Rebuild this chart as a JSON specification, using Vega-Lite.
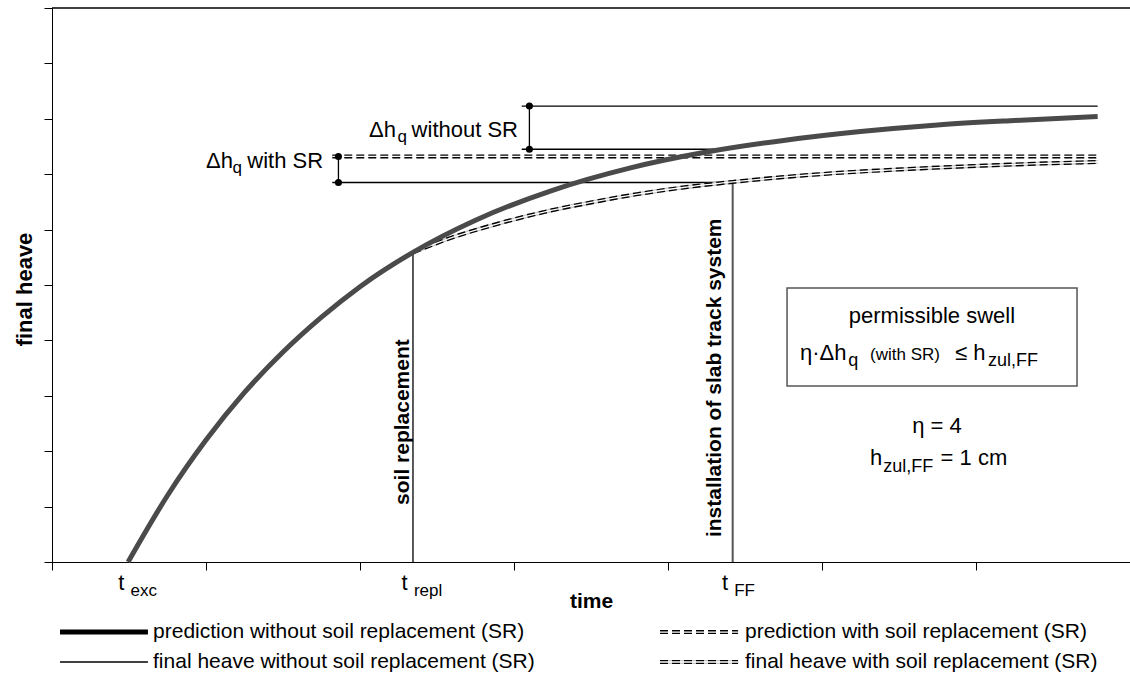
{
  "$schema": "https://vega.github.io/schema/vega-lite/v6.json",
  "width": 1078,
  "height": 554,
  "autosize": "none",
  "padding": {"left": 52, "top": 8, "right": 0, "bottom": 115},
  "config": {"view": {"stroke": null}, "font": "Liberation Sans", "text": {"font": "Liberation Sans"}},
  "datasets": {
    "curve": [{"t":0.494,"h":0},{"t":0.75,"h":1.20},{"t":1.0,"h":2.20},{"t":1.25,"h":3.06},{"t":1.5,"h":3.79},{"t":1.75,"h":4.42},{"t":2.0,"h":4.97},{"t":2.344,"h":5.59},{"t":2.75,"h":6.17},{"t":3.25,"h":6.71},{"t":3.75,"h":7.11},{"t":4.25,"h":7.40},{"t":4.75,"h":7.61},{"t":5.25,"h":7.77},{"t":5.75,"h":7.89},{"t":6.25,"h":7.97},{"t":6.79,"h":8.04}],
    "sr": [{"t":2.344,"h":5.59},{"t":2.6,"h":5.86},{"t":2.9,"h":6.11},{"t":3.2,"h":6.32},{"t":3.5,"h":6.49},{"t":3.8,"h":6.64},{"t":4.1,"h":6.76},{"t":4.42,"h":6.86},{"t":4.8,"h":6.96},{"t":5.2,"h":7.04},{"t":5.6,"h":7.10},{"t":6.0,"h":7.15},{"t":6.4,"h":7.19},{"t":6.79,"h":7.22}],
    "segs": [
      {"g":"thin","x":3.05,"x2":6.79,"y":8.23,"y2":8.23},
      {"g":"thin","x":3.05,"x2":4.37,"y":7.45,"y2":7.45},
      {"g":"thin","x":3.10,"x2":3.10,"y":7.45,"y2":8.23},
      {"g":"thin","x":1.82,"x2":4.42,"y":6.85,"y2":6.85},
      {"g":"thin","x":1.86,"x2":1.86,"y":6.85,"y2":7.32},
      {"g":"thin","x":2.344,"x2":2.344,"y":0,"y2":5.59},
      {"g":"thin","x":0,"x2":7,"y":10,"y2":10},
      {"g":"thin","x":0.052,"x2":0.623,"y":-1.805,"y2":-1.805},
      {"g":"slab","x":4.42,"x2":4.42,"y":0,"y2":6.86},
      {"g":"thick","x":0.052,"x2":0.623,"y":-1.264,"y2":-1.264},
      {"g":"dd","x":1.82,"x2":6.79,"y":7.32,"y2":7.32},
      {"g":"dd","x":3.948,"x2":4.455,"y":-1.264,"y2":-1.264},
      {"g":"gd","x":3.948,"x2":4.455,"y":-1.805,"y2":-1.805}
    ],
    "dots": [{"x":3.10,"y":8.23},{"x":3.10,"y":7.45},{"x":1.86,"y":7.32},{"x":1.86,"y":6.85}],
    "txt": [
      {"r":"annR","x":3.026,"y":7.67,"text":"without SR"},
      {"r":"annR","x":2.234,"y":7.67,"text":"Δh"},
      {"r":"annR","x":1.760,"y":7.11,"text":"with SR"},
      {"r":"annR","x":1.175,"y":7.11,"text":"Δh"},
      {"r":"subR","x":2.305,"y":7.58,"text":"q"},
      {"r":"subR","x":1.234,"y":7.02,"text":"q"},
      {"r":"main","x":0.43,"y":-0.505,"text":"t"},
      {"r":"main","x":2.27,"y":-0.505,"text":"t"},
      {"r":"main","x":4.35,"y":-0.505,"text":"t"},
      {"r":"sub","x":0.51,"y":-0.614,"text":"exc"},
      {"r":"sub","x":2.35,"y":-0.614,"text":"repl"},
      {"r":"sub","x":4.43,"y":-0.614,"text":"FF"},
      {"r":"boxL","x":4.857,"y":3.646,"text":"η·Δh"},
      {"r":"boxS","x":5.17,"y":3.538,"text":"q"},
      {"r":"small","x":5.312,"y":3.646,"text":"(with SR)"},
      {"r":"boxL","x":5.864,"y":3.646,"text":"≤ h"},
      {"r":"boxS","x":6.078,"y":3.538,"text":"zul,FF"},
      {"r":"boxL","x":5.312,"y":1.75,"text":"h"},
      {"r":"boxS","x":5.397,"y":1.625,"text":"zul,FF"},
      {"r":"boxL","x":5.77,"y":1.75,"text":"= 1 cm"},
      {"r":"boxC","x":5.714,"y":4.314,"text":"permissible swell"},
      {"r":"boxC","x":5.747,"y":2.33,"text":"η = 4"},
      {"r":"leg","x":0.656,"y":-1.264,"text":"prediction without soil replacement (SR)"},
      {"r":"leg","x":0.656,"y":-1.805,"text":"final heave without soil replacement (SR)"},
      {"r":"leg","x":4.5,"y":-1.264,"text":"prediction with soil replacement (SR)"},
      {"r":"leg","x":4.5,"y":-1.805,"text":"final heave with soil replacement (SR)"},
      {"r":"rot","x":2.279,"y":1.03,"text":"soil replacement"},
      {"r":"rot","x":4.305,"y":0.45,"text":"installation of slab track system"}
    ],
    "box": [{"x":4.773,"x2":6.656,"y":4.946,"y2":3.177}]
  },
  "encoding": {
    "x": {"field": "x", "type": "quantitative", "scale": {"domain": [0, 7], "nice": false, "zero": false},
      "axis": {"values": [0,1,2,3,4,5,6,7], "labels": false, "tickSize": 8, "grid": false, "domainColor": "#000", "tickColor": "#000", "title": "time", "titleFont": "Liberation Sans", "titleFontSize": 21, "titleFontWeight": "bold", "titleColor": "#000", "titleBaseline": "alphabetic", "titleY": 45}},
    "y": {"field": "y", "type": "quantitative", "scale": {"domain": [0, 10], "nice": false, "zero": false},
      "axis": {"values": [0,1,2,3,4,5,6,7,8,9,10], "labels": false, "tickSize": 8, "grid": false, "domainColor": "#000", "tickColor": "#000", "title": "final heave", "titleFont": "Liberation Sans", "titleFontSize": 22, "titleFontWeight": "bold", "titleColor": "#000", "titleAngle": 270, "titleBaseline": "alphabetic", "titleAlign": "center", "titleX": -21, "titleY": 281}}
  },
  "layer": [
    {"data": {"name": "box"}, "mark": {"type": "rect", "fill": null, "stroke": "#555", "strokeWidth": 1.5},
     "encoding": {"x2": {"field": "x2"}, "y2": {"field": "y2"}}},
    {"data": {"name": "segs"}, "transform": [{"filter": "datum.g == 'thin'"}], "mark": {"type": "rule", "color": "#000", "strokeWidth": 1.3},
     "encoding": {"x2": {"field": "x2"}, "y2": {"field": "y2"}}},
    {"data": {"name": "segs"}, "transform": [{"filter": "datum.g == 'slab'"}], "mark": {"type": "rule", "color": "#555", "strokeWidth": 2},
     "encoding": {"x2": {"field": "x2"}, "y2": {"field": "y2"}}},
    {"data": {"name": "segs"}, "transform": [{"filter": "datum.g == 'thick'"}], "mark": {"type": "rule", "color": "#000", "strokeWidth": 5},
     "encoding": {"x2": {"field": "x2"}, "y2": {"field": "y2"}}},
    {"data": {"name": "segs"}, "transform": [{"filter": "datum.g == 'gd'"}], "mark": {"type": "rule", "color": "#c8c8c8", "strokeWidth": 4},
     "encoding": {"x2": {"field": "x2"}, "y2": {"field": "y2"}}},
    {"data": {"name": "sr"}, "mark": {"type": "line", "color": "#c8c8c8", "strokeWidth": 4, "interpolate": "monotone"},
     "encoding": {"x": {"field": "t", "type": "quantitative"}, "y": {"field": "h", "type": "quantitative"}}},
    {"data": {"name": "segs"}, "transform": [{"filter": "datum.g == 'dd' || datum.g == 'gd'"}], "mark": {"type": "rule", "color": "#000", "strokeWidth": 4, "strokeDash": [8, 4]},
     "encoding": {"x2": {"field": "x2"}, "y2": {"field": "y2"}}},
    {"data": {"name": "sr"}, "mark": {"type": "line", "color": "#000", "strokeWidth": 4, "strokeDash": [8, 4], "interpolate": "monotone"},
     "encoding": {"x": {"field": "t", "type": "quantitative"}, "y": {"field": "h", "type": "quantitative"}}},
    {"data": {"name": "segs"}, "transform": [{"filter": "datum.g == 'dd' || datum.g == 'gd'"}], "mark": {"type": "rule", "color": "#fff", "strokeWidth": 1.3},
     "encoding": {"x2": {"field": "x2"}, "y2": {"field": "y2"}}},
    {"data": {"name": "sr"}, "mark": {"type": "line", "color": "#fff", "strokeWidth": 1.3, "interpolate": "monotone"},
     "encoding": {"x": {"field": "t", "type": "quantitative"}, "y": {"field": "h", "type": "quantitative"}}},
    {"data": {"name": "curve"}, "mark": {"type": "line", "color": "#4a4a4a", "strokeWidth": 5, "interpolate": "monotone"},
     "encoding": {"x": {"field": "t", "type": "quantitative"}, "y": {"field": "h", "type": "quantitative"}}},
    {"data": {"name": "dots"}, "mark": {"type": "circle", "color": "#000", "size": 50, "opacity": 1}},
    {"data": {"name": "txt"}, "transform": [{"filter": "datum.r == 'annR'"}], "mark": {"type": "text", "fontSize": 22, "align": "right", "baseline": "alphabetic", "color": "#000"},
     "encoding": {"text": {"field": "text"}}},
    {"data": {"name": "txt"}, "transform": [{"filter": "datum.r == 'subR'"}], "mark": {"type": "text", "fontSize": 17, "align": "right", "baseline": "alphabetic", "color": "#000"},
     "encoding": {"text": {"field": "text"}}},
    {"data": {"name": "txt"}, "transform": [{"filter": "datum.r == 'main'"}], "mark": {"type": "text", "fontSize": 22, "align": "left", "baseline": "alphabetic", "color": "#000"},
     "encoding": {"text": {"field": "text"}}},
    {"data": {"name": "txt"}, "transform": [{"filter": "datum.r == 'sub'"}], "mark": {"type": "text", "fontSize": 17, "align": "left", "baseline": "alphabetic", "color": "#000"},
     "encoding": {"text": {"field": "text"}}},
    {"data": {"name": "txt"}, "transform": [{"filter": "datum.r == 'boxL'"}], "mark": {"type": "text", "fontSize": 22, "align": "left", "baseline": "alphabetic", "color": "#000"},
     "encoding": {"text": {"field": "text"}}},
    {"data": {"name": "txt"}, "transform": [{"filter": "datum.r == 'boxS'"}], "mark": {"type": "text", "fontSize": 18, "align": "left", "baseline": "alphabetic", "color": "#000"},
     "encoding": {"text": {"field": "text"}}},
    {"data": {"name": "txt"}, "transform": [{"filter": "datum.r == 'small'"}], "mark": {"type": "text", "fontSize": 17, "align": "left", "baseline": "alphabetic", "color": "#000"},
     "encoding": {"text": {"field": "text"}}},
    {"data": {"name": "txt"}, "transform": [{"filter": "datum.r == 'boxC'"}], "mark": {"type": "text", "fontSize": 22, "align": "center", "baseline": "alphabetic", "color": "#000"},
     "encoding": {"text": {"field": "text"}}},
    {"data": {"name": "txt"}, "transform": [{"filter": "datum.r == 'leg'"}], "mark": {"type": "text", "fontSize": 21, "align": "left", "baseline": "middle", "color": "#000"},
     "encoding": {"text": {"field": "text"}}},
    {"data": {"name": "txt"}, "transform": [{"filter": "datum.r == 'rot'"}], "mark": {"type": "text", "fontSize": 21, "fontWeight": "bold", "angle": 270, "align": "left", "baseline": "middle", "color": "#000"},
     "encoding": {"text": {"field": "text"}}}
  ]
}
